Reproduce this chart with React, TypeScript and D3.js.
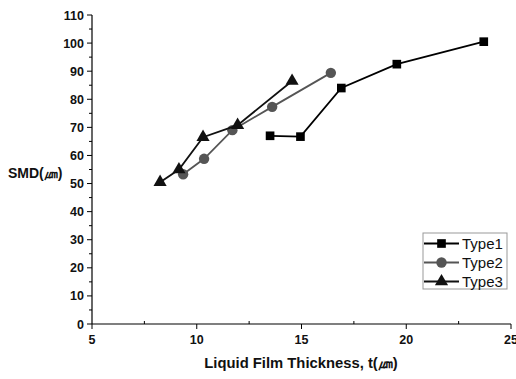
import * as d3 from 'd3';

const type1X = [13.5, 14.95, 16.9, 19.55, 23.7];
const type1Y = [67.0, 66.7, 84.0, 92.5, 100.5];
const type2X = [9.35, 10.35, 11.7, 13.6, 16.4];
const type2Y = [53.3, 58.8, 69.0, 77.3, 89.4];
const type3X = [8.25, 9.15, 10.3, 11.95, 14.55];
const type3Y = [50.5, 55.0, 66.5, 70.8, 86.5];
const xTicks = [5, 10, 15, 20, 25];
const yTicks = [0, 10, 20, 30, 40, 50, 60, 70, 80, 90, 100, 110];

const W = 516;
const H = 379;
const font = '"Liberation Sans", Arial, sans-serif';

const series = [
  { name: 'Type1', xs: type1X, ys: type1Y, color: '#000', shape: d3.symbolSquare, size: 75 },
  { name: 'Type2', xs: type2X, ys: type2Y, color: '#555', shape: d3.symbolCircle, size: 85 },
  { name: 'Type3', xs: type3X, ys: type3Y, color: '#111', shape: d3.symbolTriangle, size: 75 },
];

export default function App() {
  const x = d3.scaleLinear().domain([5, 25]).range([92, 511]);
  const y = d3.scaleLinear().domain([0, 110]).range([324, 15]);
  const minorX = d3.range(7.5, 25, 5);
  const minorY = d3.range(5, 110, 10);
  const line = d3.line<[number, number]>().x(d => x(d[0])).y(d => y(d[1]));

  return (
    <svg width={W} height={H} style={{ position: 'absolute', left: 0, top: 0, background: '#fff' }}>
      {/* axes */}
      <line x1={x(5)} x2={x(25)} y1={y(0)} y2={y(0)} stroke="#000" strokeWidth={1.2} />
      <line x1={x(5)} x2={x(5)} y1={y(0)} y2={y(110)} stroke="#000" strokeWidth={1.2} />
      {xTicks.map(t => (
        <g key={'xt' + t}>
          <line x1={x(t)} x2={x(t)} y1={y(0)} y2={y(0) + 5} stroke="#000" />
          <text x={x(t)} y={y(0) + 20} textAnchor="middle" fontFamily={font} fontWeight="bold" fontSize={12.5} fill="#111">{t}</text>
        </g>
      ))}
      {minorX.map(t => (
        <line key={'xm' + t} x1={x(t)} x2={x(t)} y1={y(0)} y2={y(0) - 3} stroke="#000" />
      ))}
      {yTicks.map(t => (
        <g key={'yt' + t}>
          <line x1={x(5) - 5} x2={x(5)} y1={y(t)} y2={y(t)} stroke="#000" />
          <text x={x(5) - 8} y={y(t) + 4.5} textAnchor="end" fontFamily={font} fontWeight="bold" fontSize={12.5} fill="#111">{t}</text>
        </g>
      ))}
      {minorY.map(t => (
        <line key={'ym' + t} x1={x(5) - 3} x2={x(5)} y1={y(t)} y2={y(t)} stroke="#000" />
      ))}
      {/* axis titles */}
      <text x={8} y={178} fontFamily={font} fontWeight="bold" fontSize={14} fill="#111">SMD(㎛)</text>
      <text x={301} y={368} textAnchor="middle" fontFamily={font} fontWeight="bold" fontSize={14.8} fill="#111">Liquid Film Thickness, t(㎛)</text>
      {/* series */}
      {series.map(s => {
        const pts = s.xs.map((v, i) => [v, s.ys[i]] as [number, number]);
        const sym = d3.symbol().type(s.shape).size(s.size)();
        return (
          <g key={s.name}>
            <path d={line(pts) || ''} fill="none" stroke={s.color} strokeWidth={1.8} />
            {pts.map((p, i) => (
              <path key={i} d={sym || ''} transform={`translate(${x(p[0])},${y(p[1])})`} fill={s.color} />
            ))}
          </g>
        );
      })}
      {/* legend */}
      <rect x={423} y={233} width={84} height={56} fill="#fff" stroke="#999" strokeWidth={1} />
      {series.map((s, i) => {
        const cy = 243.5 + i * 19;
        const sym = d3.symbol().type(s.shape).size(s.size)();
        return (
          <g key={'lg' + s.name}>
            <line x1={424} x2={459} y1={cy} y2={cy} stroke={s.color} strokeWidth={1.8} />
            <path d={sym || ''} transform={`translate(441.5,${cy})`} fill={s.color} />
            <text x={462} y={cy + 5.5} fontFamily={font} fontSize={15} fill="#111">{s.name}</text>
          </g>
        );
      })}
    </svg>
  );
}
